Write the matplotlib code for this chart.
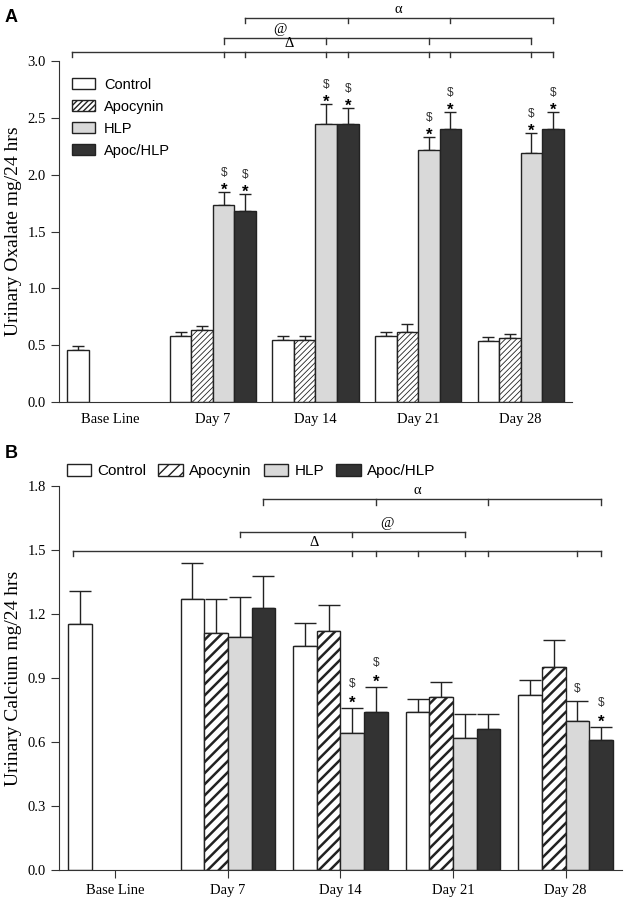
"""
Urinary oxalate / calcium bar charts (panels A and B)
"""

import matplotlib
matplotlib.use('Agg')
import matplotlib.pyplot as plt
import numpy as np

# data
groups = ['Base Line', 'Day 7', 'Day 14', 'Day 21', 'Day 28']
series = ['Control', 'Apocynin', 'HLP', 'Apoc/HLP']

oxalate_control = [0.46, 0.58, 0.55, 0.58, 0.54]
oxalate_control_err = [0.03, 0.04, 0.03, 0.04, 0.03]
oxalate_apocynin = [np.nan, 0.63, 0.55, 0.62, 0.56]
oxalate_apocynin_err = [np.nan, 0.04, 0.03, 0.07, 0.04]
oxalate_hlp = [np.nan, 1.73, 2.45, 2.22, 2.19]
oxalate_hlp_err = [np.nan, 0.12, 0.17, 0.11, 0.18]
oxalate_apoc_hlp = [np.nan, 1.68, 2.45, 2.40, 2.40]
oxalate_apoc_hlp_err = [np.nan, 0.15, 0.14, 0.15, 0.15]

calcium_control = [1.155, 1.27, 1.05, 0.74, 0.82]
calcium_control_err = [0.155, 0.17, 0.11, 0.06, 0.07]
calcium_apocynin = [np.nan, 1.11, 1.12, 0.81, 0.95]
calcium_apocynin_err = [np.nan, 0.16, 0.12, 0.07, 0.13]
calcium_hlp = [np.nan, 1.09, 0.64, 0.62, 0.70]
calcium_hlp_err = [np.nan, 0.19, 0.12, 0.11, 0.09]
calcium_apoc_hlp = [np.nan, 1.23, 0.74, 0.66, 0.61]
calcium_apoc_hlp_err = [np.nan, 0.15, 0.12, 0.07, 0.06]

# significance marks: (group, series) -> True if '*' under the '$'
oxalate_marks = {(1, 2): True, (1, 3): True, (2, 2): True, (2, 3): True,
                 (3, 2): True, (3, 3): True, (4, 2): True, (4, 3): True}
calcium_marks = {(2, 2): True, (2, 3): True, (4, 2): False, (4, 3): True}

# brackets: label, level, start (group, series), end (group, series), inner ticks, label x
oxalate_brackets = [
    ('Δ', 3.08, (0, -0.3), (4, 3), [(1, 2), (1, 3), (2, 2), (2, 3), (3, 2), (3, 3), (4, 2)], 1.74),
    ('@', 3.20, (1, 2), (4, 2), [(2, 2), (3, 2)], 1.65),
    ('α', 3.38, (1, 3), (4, 3), [(2, 3), (3, 3)], 2.81),
]
calcium_brackets = [
    ('Δ', 1.497, (0, -0.3), (4, 3), [(2, 2), (2, 3), (3, 0), (3, 2), (3, 3), (4, 2)], 1.77),
    ('@', 1.585, (1, 2), (3, 2), [(2, 2)], 2.41),
    ('α', 1.738, (1, 3), (4, 3), [(2, 3), (3, 3)], 2.68),
]

colors = ['white', 'white', '#d9d9d9', '#333333']
bar_w = 0.21
serif = ['Liberation Serif', 'DejaVu Serif']
sans = ['Liberation Sans', 'DejaVu Sans']


def bar_x(g, s):
    return g + (s - 1.5) * bar_w


def draw_panel(ax, vals, errs, marks, brackets, ylim, yticks, hatch, hatch_lw, capsize,
               tick_len, star_off, dollar_off, dollar_alone_off):
    x = np.arange(len(groups))
    handles = []
    for s in range(4):
        with plt.rc_context({'hatch.linewidth': hatch_lw}):
            b = ax.bar(x + (s - 1.5) * bar_w, vals[s], bar_w, color=colors[s],
                       edgecolor='#222222', linewidth=1.0,
                       hatch=hatch if s == 1 else None, zorder=2)
        ax.errorbar(x + (s - 1.5) * bar_w, vals[s],
                    yerr=[np.zeros(len(groups)), errs[s]], fmt='none',
                    ecolor='#222222', elinewidth=1.0, capsize=capsize, capthick=1.0, zorder=1)
        handles.append(b)

    # $ and * marks (offsets in points above the error bar top)
    for (g, s), star in marks.items():
        top = vals[s][g] + errs[s][g]
        xb = bar_x(g, s)
        if star:
            ax.annotate('*', (xb, top), xytext=(0, star_off), textcoords='offset points',
                        ha='center', va='baseline', fontsize=12, fontweight='bold',
                        family=sans, annotation_clip=False)
        ax.annotate('$', (xb, top), xytext=(0, dollar_off if star else dollar_alone_off),
                    textcoords='offset points', ha='center', va='baseline', fontsize=8.5,
                    family=sans, color='#333333', annotation_clip=False)

    # brackets above the bars
    for lab, lev, st, en, ticks, lx in brackets:
        x0 = bar_x(*st)
        x1 = bar_x(*en)
        ax.plot([x0, x1], [lev, lev], color='#333333', lw=1.0, clip_on=False)
        for tx in [x0, x1] + [bar_x(*t) for t in ticks]:
            ax.plot([tx, tx], [lev, lev - tick_len], color='#333333', lw=1.0, clip_on=False)
        ax.text(lx, lev + tick_len * 0.4, lab, ha='center', va='bottom',
                fontsize=10.5, family=serif, clip_on=False)

    ax.set_xlim(-0.5, 4.5)
    ax.set_ylim(*ylim)
    ax.set_yticks(yticks)
    ax.set_yticklabels(['{:.1f}'.format(v) for v in yticks], family=serif, fontsize=10.5)
    ax.set_xticks(x)
    ax.set_xticklabels(groups, family=serif, fontsize=10.5)
    ax.spines['top'].set_visible(False)
    ax.spines['right'].set_visible(False)
    ax.spines['left'].set_color('#333333')
    ax.spines['bottom'].set_color('#333333')
    ax.tick_params(axis='y', direction='out', length=6, color='#333333')
    return handles


fig = plt.figure(figsize=(6.24, 9.0), dpi=100)

# panel A
axA = fig.add_axes([0.0946, 0.5533, 0.822, 0.3787])
h = draw_panel(axA,
               [oxalate_control, oxalate_apocynin, oxalate_hlp, oxalate_apoc_hlp],
               [oxalate_control_err, oxalate_apocynin_err, oxalate_hlp_err, oxalate_apoc_hlp_err],
               oxalate_marks, oxalate_brackets, (0, 3.0), np.arange(0, 3.01, 0.5),
               '//////', 0.6, 4.5, 0.045, -2.0, 11.5, 6.5)
axA.tick_params(axis='x', length=0, pad=8)
axA.set_ylabel('Urinary Oxalate mg/24 hrs', family=serif, fontsize=14, labelpad=4)
axA.legend(h, series, loc='upper left', bbox_to_anchor=(0.0, 0.99), frameon=False,
           prop={'family': sans, 'size': 10.5}, handlelength=1.6, handleheight=0.75,
           labelspacing=0.55, handletextpad=0.6)

# panel B
axB = fig.add_axes([0.0946, 0.0333, 0.902, 0.4267])
h = draw_panel(axB,
               [calcium_control, calcium_apocynin, calcium_hlp, calcium_apoc_hlp],
               [calcium_control_err, calcium_apocynin_err, calcium_hlp_err, calcium_apoc_hlp_err],
               calcium_marks, calcium_brackets, (0, 1.8), np.arange(0, 1.81, 0.3),
               '///', 1.8, 8, 0.025, 0.0, 15.0, 6.5)
axB.tick_params(axis='x', direction='out', length=6, pad=4, color='#333333')
axB.set_ylabel('Urinary Calcium mg/24 hrs', family=serif, fontsize=14, labelpad=4)
axB.legend(h, series, loc='lower left', bbox_to_anchor=(0.0, 1.0), ncol=4, frameon=False,
           prop={'family': sans, 'size': 11}, handlelength=1.6, handleheight=0.8,
           columnspacing=0.8, handletextpad=0.4, borderaxespad=0.1)

fig.text(0.008, 0.99, 'A', family=sans, fontsize=13, fontweight='bold', va='top')
fig.text(0.008, 0.505, 'B', family=sans, fontsize=13, fontweight='bold', va='top')

fig.savefig('out.png', dpi=100)
plt.close()
